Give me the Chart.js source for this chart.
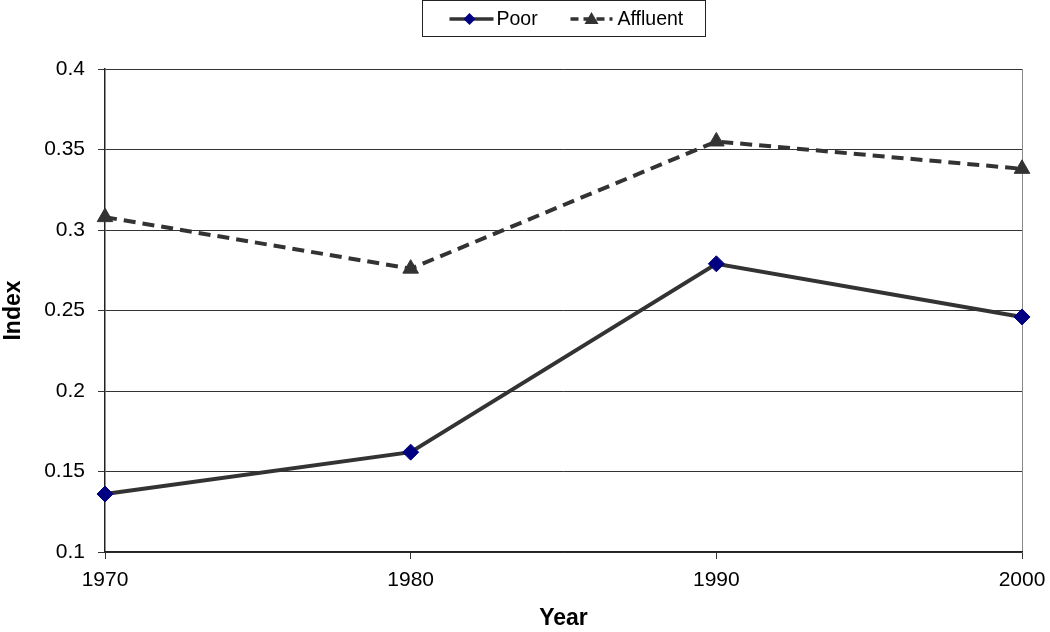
<!DOCTYPE html>
<html>
<head>
<meta charset="utf-8">
<script src="https://cdn.jsdelivr.net/npm/chart.js@4"></script>
<style>
html,body{margin:0;padding:0;background:#fff;}
#wrap{width:1050px;height:632px;position:relative;}
</style>
</head>
<body>
<div id="wrap"><canvas id="c" width="1050" height="632"></canvas></div>
<script>
const years = ['1970', '1980', '1990', '2000'];
const poor = [0.136, 0.162, 0.279, 0.246];
const affluent = [0.308, 0.276, 0.355, 0.338];
const yTicks = [0.1, 0.15, 0.2, 0.25, 0.3, 0.35, 0.4];
const seriesNames = ['Poor', 'Affluent'];

const FONT = '"Liberation Sans", Arial, sans-serif';

const legendBox = {
  id: 'legendBox',
  afterDraw(chart) {
    const ctx = chart.ctx;
    const ca = chart.chartArea;
    const cx = (ca.left + ca.right) / 2;
    const w = 283, h = 36;
    const x0 = Math.round(cx - w / 2) + 0.5, y0 = 0.5;
    ctx.save();
    ctx.strokeStyle = '#222';
    ctx.lineWidth = 1;
    ctx.strokeRect(x0, y0, w, h);
    ctx.font = '19.5px ' + FONT;
    ctx.textBaseline = 'middle';
    ctx.fillStyle = '#000';
    const ym = 19;
    // Poor
    let lx = x0 + 27;
    ctx.strokeStyle = '#333';
    ctx.lineWidth = 3.5;
    ctx.setLineDash([]);
    ctx.beginPath(); ctx.moveTo(lx, ym); ctx.lineTo(lx + 44, ym); ctx.stroke();
    ctx.fillStyle = '#000080';
    ctx.beginPath();
    const dx = lx + 20, s = 6;
    ctx.moveTo(dx, ym - s); ctx.lineTo(dx + s, ym); ctx.lineTo(dx, ym + s); ctx.lineTo(dx - s, ym); ctx.closePath(); ctx.fill();
    ctx.fillStyle = '#000';
    ctx.fillText(seriesNames[0], lx + 47, ym + 1);
    // Affluent
    lx = x0 + 148;
    ctx.strokeStyle = '#333';
    ctx.setLineDash([8, 5]);
    ctx.beginPath(); ctx.moveTo(lx, ym); ctx.lineTo(lx + 42, ym); ctx.stroke();
    ctx.setLineDash([]);
    ctx.fillStyle = '#333';
    const tx = lx + 21;
    ctx.beginPath(); ctx.moveTo(tx, ym - 7); ctx.lineTo(tx + 7, ym + 5); ctx.lineTo(tx - 7, ym + 5); ctx.closePath(); ctx.fill();
    ctx.fillStyle = '#000';
    ctx.fillText(seriesNames[1], lx + 47, ym + 1);
    ctx.restore();
  }
};

new Chart(document.getElementById('c'), {
  type: 'line',
  data: {
    labels: years,
    datasets: [
      {
        label: seriesNames[0],
        data: poor,
        borderColor: '#333333',
        borderWidth: 4,
        tension: 0,
        pointStyle: 'rectRot',
        pointRadius: 8,
        pointHoverRadius: 8,
        pointBackgroundColor: '#000080',
        pointBorderColor: '#000080',
        pointBorderWidth: 1
      },
      {
        label: seriesNames[1],
        data: affluent,
        borderColor: '#333333',
        borderWidth: 4,
        borderDash: [12, 7],
        tension: 0,
        pointStyle: 'triangle',
        pointRadius: 9,
        pointHoverRadius: 9,
        pointBackgroundColor: '#333333',
        pointBorderColor: '#333333',
        pointBorderWidth: 1
      }
    ]
  },
  options: {
    responsive: false,
    animation: false,
    devicePixelRatio: 1,
    layout: { padding: { top: 69, right: 28, left: 0, bottom: 0 } },
    plugins: { legend: { display: false }, tooltip: { enabled: false } },
    scales: {
      x: {
        type: 'category',
        offset: false,
        afterFit(scale) { scale.height = 80; scale.paddingRight = 0; scale.paddingLeft = 0; },
        grid: {
          color: (c) => c.index === years.length - 1 ? '#888888' : 'rgba(0,0,0,0)',
          tickColor: '#333333',
          tickLength: 7,
          lineWidth: 1,
          drawTicks: true
        },
        border: { color: '#222222', width: 1.5 },
        ticks: { color: '#000', font: { family: FONT, size: 21 }, padding: 9, maxRotation: 0 },
        title: { display: true, text: 'Year', color: '#000', font: { family: FONT, size: 23, weight: 'bold' }, padding: { top: 0, bottom: 0 } }
      },
      y: {
        min: 0.1,
        max: 0.4,
        afterFit(scale) { scale.width = 105; },
        afterBuildTicks(scale) { scale.ticks = yTicks.map(v => ({ value: v })); },
        grid: { color: '#333333', tickColor: '#333333', tickLength: 7, lineWidth: 1 },
        border: { color: '#222222', width: 1.5 },
        ticks: { color: '#000', font: { family: FONT, size: 21 }, padding: 13, callback: (v) => String(v) },
        title: { display: true, text: 'Index', color: '#000', font: { family: FONT, size: 23, weight: 'bold' }, padding: { top: 0, bottom: 0 } }
      }
    }
  },
  plugins: [legendBox]
});
</script>
</body>
</html>
